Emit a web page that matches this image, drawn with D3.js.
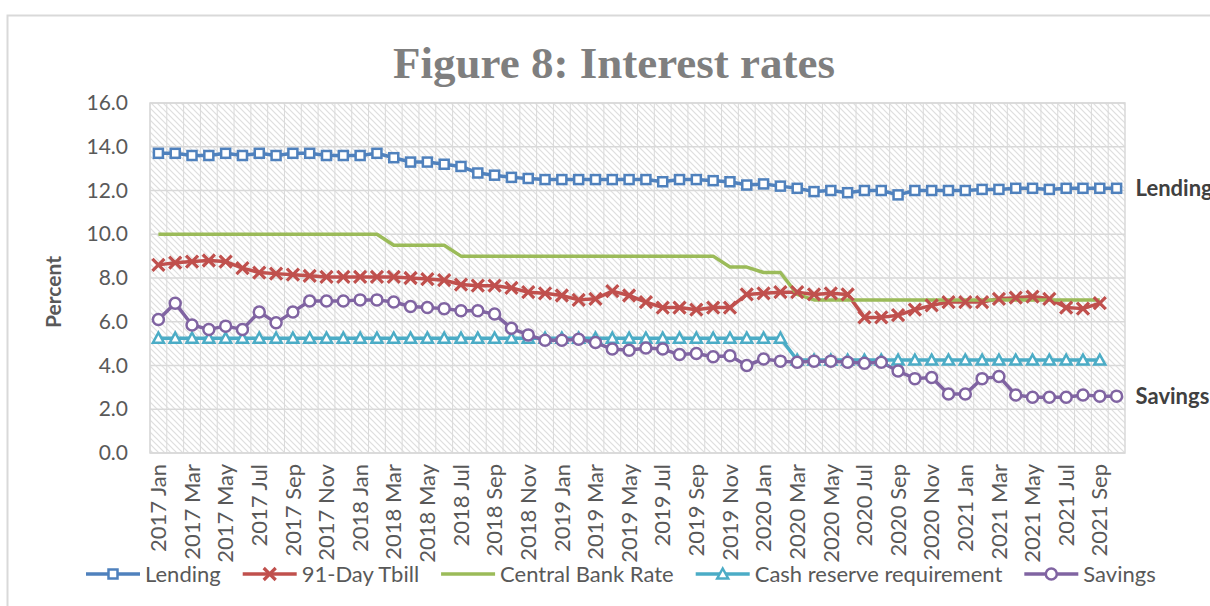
<!DOCTYPE html>
<html>
<head>
<meta charset="utf-8">
<script src="https://cdn.jsdelivr.net/npm/d3@7"></script>
<style>
    body { margin: 0; background: #fff; }
    svg text { font-family: Lato, "Open Sans", sans-serif; }
</style>
</head>
<body>
<svg width="1210" height="606"></svg>
<script>

    // months, 2017 Jan .. 2021 Oct
    var monthNames = ["Jan", "Feb", "Mar", "Apr", "May", "Jun", "Jul", "Aug", "Sep", "Oct", "Nov", "Dec"];
    var months = [];
    [2017, 2018, 2019, 2020, 2021].forEach(function (yr) {
        monthNames.forEach(function (m) { months.push(yr + " " + m); });
    });
    months = months.slice(0, 58);

    var lending = [13.7, 13.7, 13.6, 13.6, 13.7, 13.6, 13.7, 13.6, 13.7, 13.7, 13.6, 13.6, 13.6, 13.7, 13.5, 13.3, 13.3, 13.2, 13.1, 12.8,
        12.7, 12.6, 12.55, 12.5, 12.5, 12.5, 12.5, 12.5, 12.5, 12.5, 12.4, 12.5, 12.5, 12.45, 12.4, 12.25, 12.3, 12.2, 12.1,
        11.95, 12.0, 11.9, 12.0, 12.0, 11.8, 12.0, 12.0, 12.0, 12.0, 12.05, 12.05, 12.1, 12.1, 12.05, 12.1, 12.1, 12.1, 12.1];

    var tbill = [8.6, 8.7, 8.75, 8.8, 8.75, 8.45, 8.25, 8.2, 8.15, 8.1, 8.05, 8.05, 8.05, 8.05, 8.05, 8.0, 7.95, 7.9, 7.7, 7.65,
        7.65, 7.55, 7.35, 7.3, 7.2, 7.0, 7.05, 7.4, 7.2, 6.9, 6.65, 6.65, 6.55, 6.65, 6.65, 7.25, 7.3, 7.35, 7.35,
        7.25, 7.3, 7.25, 6.2, 6.2, 6.3, 6.55, 6.75, 6.9, 6.9, 6.9, 7.05, 7.1, 7.15, 7.05, 6.65, 6.6, 6.85];

    var cbr = [10, 10, 10, 10, 10, 10, 10, 10, 10, 10, 10, 10, 10, 10, 9.5, 9.5, 9.5, 9.5, 9, 9,
        9, 9, 9, 9, 9, 9, 9, 9, 9, 9, 9, 9, 9, 9, 8.5, 8.5, 8.25, 8.25, 7.25,
        7, 7, 7, 7, 7, 7, 7, 7, 7, 7, 7, 7, 7, 7, 7, 7, 7, 7];

    var crr = [5.25, 5.25, 5.25, 5.25, 5.25, 5.25, 5.25, 5.25, 5.25, 5.25, 5.25, 5.25, 5.25, 5.25, 5.25, 5.25, 5.25, 5.25, 5.25, 5.25,
        5.25, 5.25, 5.25, 5.25, 5.25, 5.25, 5.25, 5.25, 5.25, 5.25, 5.25, 5.25, 5.25, 5.25, 5.25, 5.25, 5.25, 5.25, 4.25,
        4.25, 4.25, 4.25, 4.25, 4.25, 4.25, 4.25, 4.25, 4.25, 4.25, 4.25, 4.25, 4.25, 4.25, 4.25, 4.25, 4.25, 4.25];

    var savings = [6.1, 6.85, 5.85, 5.65, 5.8, 5.65, 6.45, 5.95, 6.45, 6.95, 6.95, 6.95, 7.0, 7.0, 6.9, 6.7, 6.65, 6.6, 6.5, 6.5,
        6.35, 5.7, 5.4, 5.15, 5.15, 5.2, 5.05, 4.75, 4.7, 4.8, 4.75, 4.5, 4.55, 4.4, 4.45, 4.0, 4.3, 4.2, 4.15,
        4.2, 4.2, 4.15, 4.1, 4.15, 3.75, 3.4, 3.45, 2.7, 2.7, 3.4, 3.5, 2.65, 2.55, 2.55, 2.55, 2.65, 2.6, 2.6];

    var yTicks = [0, 2, 4, 6, 8, 10, 12, 14, 16];

    var series = [
        {name: "Lending", values: lending, color: "#4f81bd", marker: "square"},
        {name: "91-Day Tbill", values: tbill, color: "#c0504d", marker: "cross"},
        {name: "Central Bank Rate", values: cbr, color: "#9bbb59", marker: "none"},
        {name: "Cash reserve requirement", values: crr, color: "#4bacc6", marker: "triangle"},
        {name: "Savings", values: savings, color: "#8064a2", marker: "circle"}
    ];

    var svg = d3.select("svg"),
        plot = {left: 150, right: 1125, top: 103, bottom: 453};

    var x = d3.scaleBand().domain(months).range([plot.left, plot.right]).padding(0);
    var y = d3.scaleLinear().domain([0, 16]).range([plot.bottom, plot.top]);
    var cx = function (i) { return x(months[i]) + x.bandwidth() / 2; };

    // outer chart border
    svg.append("rect")
        .attr("x", 7.5).attr("y", 15.5)
        .attr("width", 1220).attr("height", 620)
        .attr("fill", "none").attr("stroke", "#d9d9d9").attr("stroke-width", 2);

    // hatch fill of plot area
    var defs = svg.append("defs");
    var pat = defs.append("pattern")
        .attr("id", "hatch")
        .attr("patternUnits", "userSpaceOnUse")
        .attr("width", 6).attr("height", 6);
    pat.append("rect").attr("width", 6).attr("height", 6).attr("fill", "#fff");
    pat.append("path")
        .attr("d", "M-1,-1 L7,7 M5,-1 L7,1 M-1,5 L1,7")
        .attr("stroke", "#dedede").attr("stroke-width", 1.2);

    svg.append("rect")
        .attr("x", plot.left).attr("y", plot.top)
        .attr("width", plot.right - plot.left).attr("height", plot.bottom - plot.top)
        .attr("fill", "url(#hatch)");

    // vertical gridlines at category boundaries
    svg.append("g").selectAll("line")
        .data(months)
        .enter().append("line")
        .attr("x1", function (d) { return x(d); })
        .attr("x2", function (d) { return x(d); })
        .attr("y1", plot.top).attr("y2", plot.bottom)
        .attr("stroke", "#d9d9d9").attr("stroke-width", 1);

    // horizontal gridlines
    svg.append("g").selectAll("line")
        .data(yTicks)
        .enter().append("line")
        .attr("x1", plot.left).attr("x2", plot.right)
        .attr("y1", function (d) { return y(d); })
        .attr("y2", function (d) { return y(d); })
        .attr("stroke", "#d9d9d9").attr("stroke-width", 1.5);

    svg.append("rect")
        .attr("x", plot.left).attr("y", plot.top)
        .attr("width", plot.right - plot.left).attr("height", plot.bottom - plot.top)
        .attr("fill", "none").attr("stroke", "#d9d9d9").attr("stroke-width", 1.5);

    // y axis
    var yAxis = svg.append("g")
        .attr("transform", "translate(" + plot.left + ",0)")
        .call(d3.axisLeft(y).tickValues(yTicks).tickFormat(d3.format(".1f")).tickSize(0).tickPadding(22));
    yAxis.select(".domain").remove();
    yAxis.selectAll("text")
        .attr("font-family", "Lato").attr("font-size", "21px").attr("fill", "#595959");

    // x axis, every other month labelled
    var xAxis = svg.append("g")
        .attr("transform", "translate(0," + plot.bottom + ")")
        .call(d3.axisBottom(x).tickValues(months.filter(function (d, i) { return i % 2 === 0; })).tickSize(0));
    xAxis.select(".domain").remove();
    xAxis.selectAll("text")
        .attr("font-family", "Lato").attr("font-size", "22px").attr("fill", "#595959")
        .attr("transform", "rotate(-90)")
        .attr("x", -11).attr("y", 0).attr("dy", "0.35em")
        .style("text-anchor", "end");

    // y title
    svg.append("text")
        .attr("transform", "translate(61,292) rotate(-90)")
        .attr("text-anchor", "middle")
        .attr("font-size", "21px").attr("font-weight", "bold").attr("fill", "#595959")
        .text("Percent");

    // title
    var title = svg.append("text")
        .attr("x", 614).attr("y", 78)
        .attr("text-anchor", "middle")
        .style("font-family", "'Liberation Serif', serif")
        .attr("font-weight", "bold").attr("font-size", "46px").attr("fill", "#7f7f7f")
        .text("Figure 8: Interest rates");
    var tw = title.node().getComputedTextLength();
    title.attr("font-size", (46 * 442 / tw).toFixed(1) + "px");

    function drawMarker(g, type, color) {
        if (type === "square") {
            g.append("rect").attr("x", -4.5).attr("y", -4.5).attr("width", 9).attr("height", 9)
                .attr("fill", "#fff").attr("stroke", color).attr("stroke-width", 2.5);
        } else if (type === "circle") {
            g.append("circle").attr("r", 5.5)
                .attr("fill", "#fff").attr("stroke", color).attr("stroke-width", 2.5);
        } else if (type === "triangle") {
            g.append("path").attr("d", "M0,-5.5 L5.5,4.5 L-5.5,4.5 Z")
                .attr("fill", "#fff").attr("stroke", color).attr("stroke-width", 2.5);
        } else if (type === "cross") {
            g.append("path").attr("d", "M-6,-6 L6,6 M-6,6 L6,-6")
                .attr("stroke", color).attr("stroke-width", 3.2);
        }
    }

    var line = d3.line()
        .x(function (d, i) { return cx(i); })
        .y(function (d) { return y(d); });

    var lines = svg.append("g");
    series.forEach(function (s) {
        lines.append("path")
            .datum(s.values)
            .attr("d", line)
            .attr("fill", "none")
            .attr("stroke", s.color)
            .attr("stroke-width", 3.5)
            .attr("stroke-linejoin", "round");
    });
    series.forEach(function (s) {
        if (s.marker === "none") return;
        lines.append("g").selectAll("g")
            .data(s.values)
            .enter().append("g")
            .attr("transform", function (d, i) { return "translate(" + cx(i) + "," + y(d) + ")"; })
            .each(function () { drawMarker(d3.select(this), s.marker, s.color); });
    });

    // end labels
    [series[0], series[4]].forEach(function (s) {
        var last = s.values.length - 1;
        svg.append("text")
            .attr("x", cx(last) + 19)
            .attr("y", y(s.values[last]))
            .attr("dy", "0.35em")
            .attr("font-size", "22px").attr("font-weight", "bold").attr("fill", "#404040")
            .text(s.name);
    });

    // legend
    var legend = svg.append("g");
    var lx = 86, ly = 574;
    series.forEach(function (s) {
        var g = legend.append("g").attr("transform", "translate(" + lx + "," + ly + ")");
        g.append("line").attr("x1", 0).attr("x2", 54)
            .attr("stroke", s.color).attr("stroke-width", 3.5);
        var m = g.append("g").attr("transform", "translate(27,0)");
        drawMarker(m, s.marker, s.color);
        var t = g.append("text").attr("x", 59).attr("dy", "0.35em")
            .attr("font-size", "22px").attr("fill", "#595959")
            .text(s.name);
        lx += 59 + t.node().getComputedTextLength() + 22;
    });

</script>
</body>
</html>
